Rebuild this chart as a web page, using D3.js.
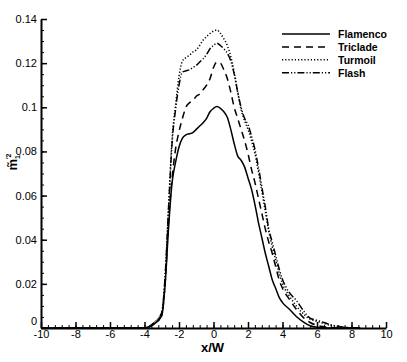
<!DOCTYPE html>
<html>
<head>
<meta charset="utf-8">
<script src="https://cdn.jsdelivr.net/npm/d3@7"></script>
<style>
  body { margin: 0; background: #fff; }
  svg { font-family: "Liberation Sans", Arial, sans-serif; }
</style>
</head>
<body>
<div id="chart"></div>
<script>
const xValues = [-10, -4.5, -4, -3.5, -3, -2.8, -2.6, -2.4, -2.2, -2, -1.8, -1.6, -1.4, -1.2, -1, -0.8, -0.6, -0.4, -0.2, 0, 0.2, 0.4, 0.6, 0.8, 1, 1.2, 1.4, 1.6, 1.8, 2, 2.2, 2.4, 2.6, 2.8, 3, 3.2, 3.4, 3.6, 3.8, 4, 4.4, 4.8, 5.2, 5.6, 6, 6.4, 6.8, 7.2, 7.6, 8, 8.5];

const flamenco = [0, 0, 0, 0.0015, 0.0055, 0.02, 0.046, 0.066, 0.075, 0.082, 0.086, 0.0875, 0.088, 0.0885, 0.090, 0.0915, 0.093, 0.095, 0.098, 0.0995, 0.1003, 0.0995, 0.098, 0.0955, 0.090, 0.0835, 0.078, 0.076, 0.073, 0.068, 0.063, 0.056, 0.048, 0.041, 0.034, 0.028, 0.022, 0.018, 0.014, 0.0115, 0.0085, 0.0052, 0.0028, 0.001, 0.0003, 0.0001, 0, 0, 0, 0, 0];
const triclade = [0, 0, 0, 0.0015, 0.006, 0.021, 0.049, 0.068, 0.081, 0.089, 0.095, 0.100, 0.102, 0.103, 0.105, 0.106, 0.108, 0.110, 0.113, 0.118, 0.1205, 0.120, 0.117, 0.113, 0.107, 0.100, 0.095, 0.090, 0.085, 0.079, 0.072, 0.066, 0.059, 0.052, 0.045, 0.039, 0.034, 0.028, 0.022, 0.018, 0.013, 0.0085, 0.0048, 0.0025, 0.0012, 0.0006, 0.0002, 0, 0, 0, 0];
const turmoil = [0, 0, 0, 0.002, 0.007, 0.024, 0.056, 0.086, 0.101, 0.114, 0.121, 0.1225, 0.1235, 0.125, 0.126, 0.128, 0.1305, 0.132, 0.1335, 0.1345, 0.135, 0.1335, 0.131, 0.128, 0.123, 0.116, 0.107, 0.099, 0.094, 0.090, 0.085, 0.079, 0.071, 0.062, 0.053, 0.044, 0.037, 0.031, 0.025, 0.020, 0.0145, 0.010, 0.0065, 0.004, 0.003, 0.002, 0.0012, 0.0006, 0.0003, 0.0001, 0];
const flash = [0, 0, 0, 0.002, 0.007, 0.024, 0.055, 0.084, 0.099, 0.110, 0.116, 0.1165, 0.117, 0.118, 0.119, 0.1205, 0.122, 0.124, 0.1265, 0.128, 0.129, 0.128, 0.1265, 0.1245, 0.121, 0.115, 0.107, 0.100, 0.095, 0.092, 0.087, 0.081, 0.073, 0.064, 0.055, 0.045, 0.039, 0.033, 0.027, 0.022, 0.016, 0.0125, 0.008, 0.0045, 0.0035, 0.0025, 0.0015, 0.0008, 0.0003, 0.0001, 0];

const seriesNames = ['Flamenco', 'Triclade', 'Turmoil', 'Flash'];
const seriesDash = ['none', '7,5', '1.2,2', '7,2,1.2,2,1.2,2'];
const xTicks = [-10, -8, -6, -4, -2, 0, 2, 4, 6, 8, 10];
const yTicks = [0, 0.02, 0.04, 0.06, 0.08, 0.1, 0.12, 0.14];

const width = 407, height = 362;
const margin = { top: 19, right: 21, bottom: 34, left: 41 };

const svg = d3.select('#chart').append('svg')
  .attr('width', width)
  .attr('height', height);

const x = d3.scaleLinear().domain([-10, 10]).range([margin.left, width - margin.right]);
const y = d3.scaleLinear().domain([0, 0.14]).range([height - margin.bottom, margin.top]);

// minor ticks first, then the major axes on top
svg.append('g')
  .attr('transform', `translate(0,${y(0)})`)
  .call(d3.axisBottom(x).tickValues(d3.range(-10, 10.01, 0.4)).tickSize(-3).tickFormat(''))
  .call(g => g.select('.domain').remove())
  .selectAll('line').attr('stroke-width', 1);

svg.append('g')
  .attr('transform', `translate(${x(-10)},0)`)
  .call(d3.axisLeft(y).tickValues(d3.range(0, 0.1401, 0.005)).tickSize(-3).tickFormat(''))
  .call(g => g.select('.domain').remove())
  .selectAll('line').attr('stroke-width', 1);

const xAxis = svg.append('g')
  .attr('transform', `translate(0,${y(0)})`)
  .call(d3.axisBottom(x).tickValues(xTicks).tickSize(-6).tickPadding(4).tickSizeOuter(0)
    .tickFormat(d => String(d)));
xAxis.select('.domain').attr('stroke-width', 2);
xAxis.selectAll('line').attr('stroke-width', 1.5);
xAxis.selectAll('text').attr('font-size', 11).attr('fill', '#000').attr('y', 2).attr('dy', '0.71em');

const yAxis = svg.append('g')
  .attr('transform', `translate(${x(-10)},0)`)
  .call(d3.axisLeft(y).tickValues(yTicks).tickSize(-6).tickPadding(4).tickSizeOuter(0)
    .tickFormat(d => d === 0 ? '0' : String(+d.toFixed(2))));
yAxis.select('.domain').attr('stroke-width', 2);
yAxis.selectAll('line').attr('stroke-width', 1.5);
yAxis.selectAll('text').attr('font-size', 11).attr('fill', '#000').attr('x', -4)
  .attr('y', d => d === 0 ? -7 : 0);

const allSeries = [flamenco, triclade, turmoil, flash];
const line = d3.line()
  .x((d, i) => x(xValues[i]))
  .y(d => y(d))
  .curve(d3.curveMonotoneX);

allSeries.forEach((s, k) => {
  svg.append('path')
    .datum(s)
    .attr('fill', 'none')
    .attr('stroke', '#000')
    .attr('stroke-width', 1.5)
    .attr('stroke-dasharray', seriesDash[k])
    .attr('d', line);
});

// legend
const legend = svg.append('g').attr('transform', 'translate(282,34)');
seriesNames.forEach((name, k) => {
  const row = legend.append('g').attr('transform', `translate(0,${k * 12.9})`);
  row.append('line')
    .attr('x1', 0).attr('x2', 48).attr('y1', 0).attr('y2', 0)
    .attr('stroke', '#000').attr('stroke-width', 1.5)
    .attr('stroke-dasharray', seriesDash[k]);
  row.append('text')
    .attr('x', 56).attr('y', 4)
    .attr('font-size', 10.5).attr('font-weight', 'bold')
    .text(name);
});

svg.append('text')
  .attr('x', x(0) - 1)
  .attr('y', 352)
  .attr('text-anchor', 'middle')
  .attr('font-size', 13)
  .attr('font-weight', 'bold')
  .text('x/W');

const yLabel = svg.append('text')
  .attr('transform', 'translate(17,162) rotate(-90)')
  .attr('text-anchor', 'middle')
  .attr('font-size', 13)
  .attr('font-weight', 'bold');
yLabel.append('tspan').text('m\u0303');
yLabel.append('tspan').attr('font-size', 7).attr('dy', 3).text('1');
yLabel.append('tspan').attr('font-size', 7).attr('dy', -9).attr('dx', -4).text('\u20322');
</script>
</body>
</html>
